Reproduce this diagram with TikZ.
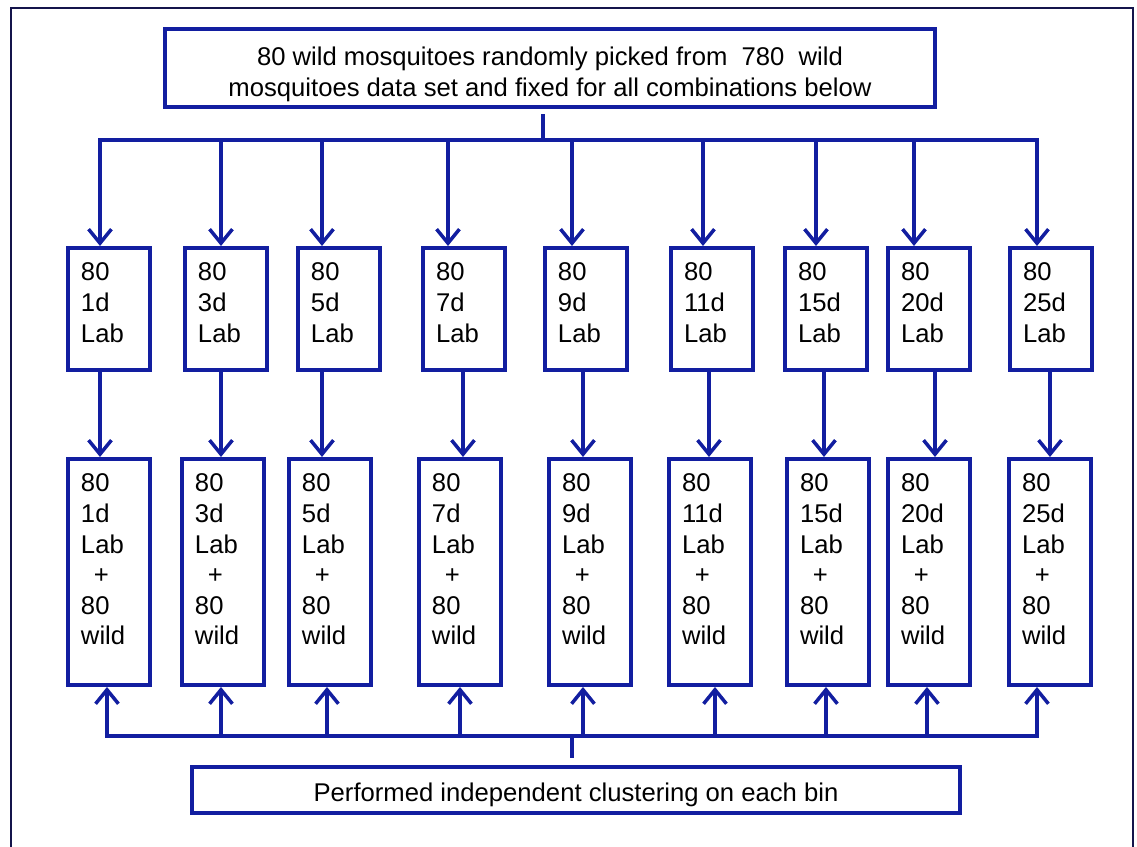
\documentclass[tikz,border=0pt]{standalone}
\usepackage{fontspec}
\setmainfont{Liberation Sans}
\usetikzlibrary{positioning,arrows.meta}
\definecolor{binblue}{RGB}{18,30,160}
\definecolor{framenavy}{RGB}{20,20,75}

\begin{document}
\begin{tikzpicture}[
x=0.02cm, y=-0.02cm,
font=\fontsize{14.6}{17.4}\selectfont,
conn/.style={
  draw=binblue,
  line width=0.07cm
  },
bus/.style={
  conn,
  line cap=rect
  },
wide/.style={
  draw=binblue,
  line width=0.08cm,
  align=center,
  minimum width=15.4cm,
  minimum height=#1
  },
bin/.style={
  draw=binblue,
  line width=0.08cm,
  anchor=north west,
  inner xsep=0.26cm,
  inner ysep=0.3cm
  },
>={Straight Barb[length=8pt,width=13pt]}
]

\useasboundingbox (0,0) rectangle (1137,847);
\draw[framenavy, line width=0.045cm] (11,847) |- (1133,8) -- (1133,847);

\node[wide=1.56cm] (src) at (550,68)
  {\rule{0pt}{0.62cm}80 wild mosquitoes randomly picked from \ 780 \ wild\\
   mosquitoes data set and fixed for all combinations below};
\node[wide=0.92cm, minimum width=15.36cm] (clu) at (576,790)
  {\rule{0pt}{0.57cm}Performed independent clustering on each bin};
\coordinate (topbus) at (543,140);
\coordinate (botbus) at (572,736);

\foreach \d/\ux/\lx/\ta/\ma/\ba [count=\i] in {
  1d/66/66/100/100/107, 3d/183/180/221/221/221, 5d/296/287/322/322/327,
  7d/421/417/448/463/460, 9d/543/547/572/583/583, 11d/669/667/703/709/715,
  15d/783/785/816/824/826, 20d/886/886/914/935/927, 25d/1008/1007/1037/1050/1037}
{
  \node[bin] (lab\i) at (\ux,246) {\parbox[t][1.84cm][t]{1.12cm}{80\\\d\\Lab}};
  \node[bin] (mix\i) at (\lx,457)
    {\parbox[t][3.92cm][t]{1.12cm}{80\\\d\\Lab\\\hspace*{0.5em}+\\80\\wild}};
  \coordinate (ta\i) at (\ta,0);
  \coordinate (ma\i) at (\ma,0);
  \coordinate (ba\i) at (\ba,0);
  \draw[conn,->] (topbus -| ta\i) -- (lab\i.north -| ta\i);
  \draw[conn,->] (lab\i.south -| ma\i) -- (mix\i.north -| ma\i);
  \draw[conn,->] (botbus -| ba\i) -- (mix\i.south -| ba\i);
}

\draw[conn] ([yshift=-0.1cm]src.south -| topbus) -- (topbus);
\draw[bus] (topbus -| ta1) -- (topbus -| ta9);
\draw[bus] (botbus -| ba1) -- (botbus -| ba9);
\draw[conn] (botbus) -- ([yshift=0.14cm]clu.north -| botbus);
\end{tikzpicture}
\end{document}
